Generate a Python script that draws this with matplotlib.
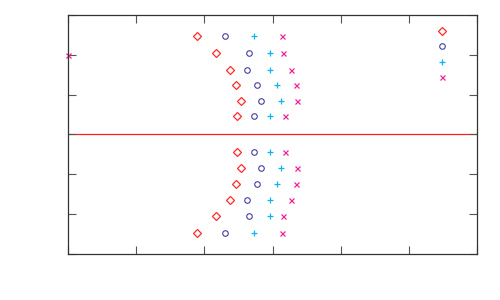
import matplotlib
matplotlib.use("Agg")
import matplotlib.pyplot as plt

# Row positions (y) shared by the four series
rows_y = [5.47, 5.04, 4.63, 4.23, 3.84, 3.45, 2.55, 2.15, 1.75, 1.36, 0.96, 0.53]

diamond_x = [1.89, 2.17, 2.37, 2.46, 2.54, 2.48, 2.48, 2.54, 2.46, 2.37, 2.17, 1.89]
circle_x = [2.30, 2.65, 2.63, 2.77, 2.83, 2.73, 2.73, 2.83, 2.77, 2.63, 2.65, 2.30]
plus_x = [2.73, 2.97, 2.97, 3.07, 3.12, 2.97, 2.97, 3.12, 3.07, 2.97, 2.97, 2.73]
cross_x = [3.14, 3.15, 3.27, 3.34, 3.36, 3.18, 3.18, 3.36, 3.34, 3.27, 3.15, 3.14]

# Key-like markers at the right
key_x = [5.49, 5.49, 5.49, 5.49]
key_y = [5.59, 5.21, 4.82, 4.44]

# Stray cross on the left border
stray_x = [0.0]
stray_y = [5.0]

ref_line_y = 3.0

x_ticks = [0, 1, 2, 3, 4, 5, 6]
y_ticks = [0, 1, 2, 3, 4, 5, 6]

c_diamond = "#ff2a2a"
c_circle = "#4040a0"
c_plus = "#10b4f0"
c_cross = "#f0209a"

fig = plt.figure(figsize=(5, 3), dpi=100)
ax = fig.add_axes([0.136, 0.154, 0.818, 0.796])

ax.axhline(ref_line_y, color="#ff2020", lw=0.9, zorder=1)

ax.plot(diamond_x, rows_y, linestyle="none", marker="D", ms=3.6, mfc="none",
        mec=c_diamond, mew=0.9)
ax.plot(circle_x, rows_y, linestyle="none", marker="o", ms=4.0, mfc="none",
        mec=c_circle, mew=0.8)
ax.plot(plus_x, rows_y, linestyle="none", marker="+", ms=5.0,
        mec=c_plus, mew=0.9)
ax.plot(cross_x, rows_y, linestyle="none", marker="x", ms=3.6,
        mec=c_cross, mew=0.9)

ax.plot([key_x[0]], [key_y[0]], linestyle="none", marker="D", ms=3.6, mfc="none",
        mec=c_diamond, mew=0.9)
ax.plot([key_x[1]], [key_y[1]], linestyle="none", marker="o", ms=4.0, mfc="none",
        mec=c_circle, mew=0.8)
ax.plot([key_x[2]], [key_y[2]], linestyle="none", marker="+", ms=5.0,
        mec=c_plus, mew=0.9)
ax.plot([key_x[3]], [key_y[3]], linestyle="none", marker="x", ms=3.6,
        mec=c_cross, mew=0.9)

ax.plot(stray_x, stray_y, linestyle="none", marker="x", ms=3.6,
        mec=c_cross, mew=0.9, clip_on=False)

ax.set_xlim(0, 6)
ax.set_ylim(0, 6)
ax.set_xticks(x_ticks)
ax.set_yticks(y_ticks)
ax.set_xticklabels([])
ax.set_yticklabels([])
ax.tick_params(direction="in", length=6, width=0.8, color="#555555",
               top=True, right=True)
for s in ax.spines.values():
    s.set_color("#333333")
    s.set_linewidth(0.9)

fig.savefig("out.png", dpi=100)
